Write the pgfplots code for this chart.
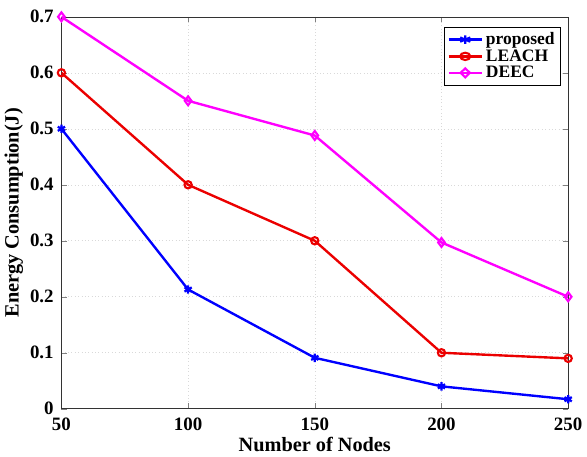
\documentclass[border=0pt]{standalone}
\usepackage{fontspec}
\setmainfont{Liberation Serif}
\usepackage{pgfplots}
\pgfplotsset{compat=1.18}
\definecolor{mblue}{RGB}{0,0,255}
\definecolor{mred}{RGB}{235,0,0}
\definecolor{mmag}{RGB}{255,0,255}
\begin{document}
\begin{tikzpicture}
\begin{axis}[
  name=main,
  width=362pt, height=280pt, scale only axis,
  xmin=50, xmax=250, ymin=0, ymax=0.7,
  xtick={50,100,150,200,250}, ytick={0,0.1,0.2,0.3,0.4,0.5,0.6,0.7},
  yticklabel style={/pgf/number format/fixed, xshift=-2pt},
  xticklabel style={yshift=-3pt},
  /pgf/number format/assume math mode=true,
  tick label style={font=\bfseries\fontsize{13.5}{14}\selectfont},
  label style={font=\bfseries\fontsize{14.5}{15}\selectfont},
  xlabel={Number of Nodes}, ylabel={Energy Consumption(J)},
  xlabel style={yshift=2pt}, ylabel style={yshift=-2pt},
  tick align=inside, major tick length=4pt,
  xmajorgrids, ymajorgrids, grid style={gray!30, dotted},
  axis line style={black!80},
  legend style={at={(0.985,0.975)}, anchor=north east, draw=black, font=\bfseries\fontsize{12.5}{13}\selectfont, row sep=-2pt, inner sep=2pt},
  legend image post style={xscale=1.4},
  legend cell align=left,
  every axis plot/.append style={line width=1.7pt},
]
\addplot[mblue, mark=asterisk, mark size=3pt, mark options={line width=1.6pt}] coordinates {(50,0.5) (100,0.213) (150,0.091) (200,0.04) (250,0.017)};
\addplot[mred, mark=o, mark size=2.6pt, mark options={line width=1.5pt, fill=white}] coordinates {(50,0.6) (100,0.4) (150,0.3) (200,0.1) (250,0.09)};
\addplot[mmag, mark=diamond, mark size=3.2pt, mark options={line width=1.5pt, fill=white}] coordinates {(50,0.7) (100,0.55) (150,0.488) (200,0.297) (250,0.2)};
\legend{proposed, LEACH, DEEC}
\end{axis}
\path ([yshift=12pt]main.north) -- ([yshift=12pt]main.north);
\end{tikzpicture}
\end{document}
